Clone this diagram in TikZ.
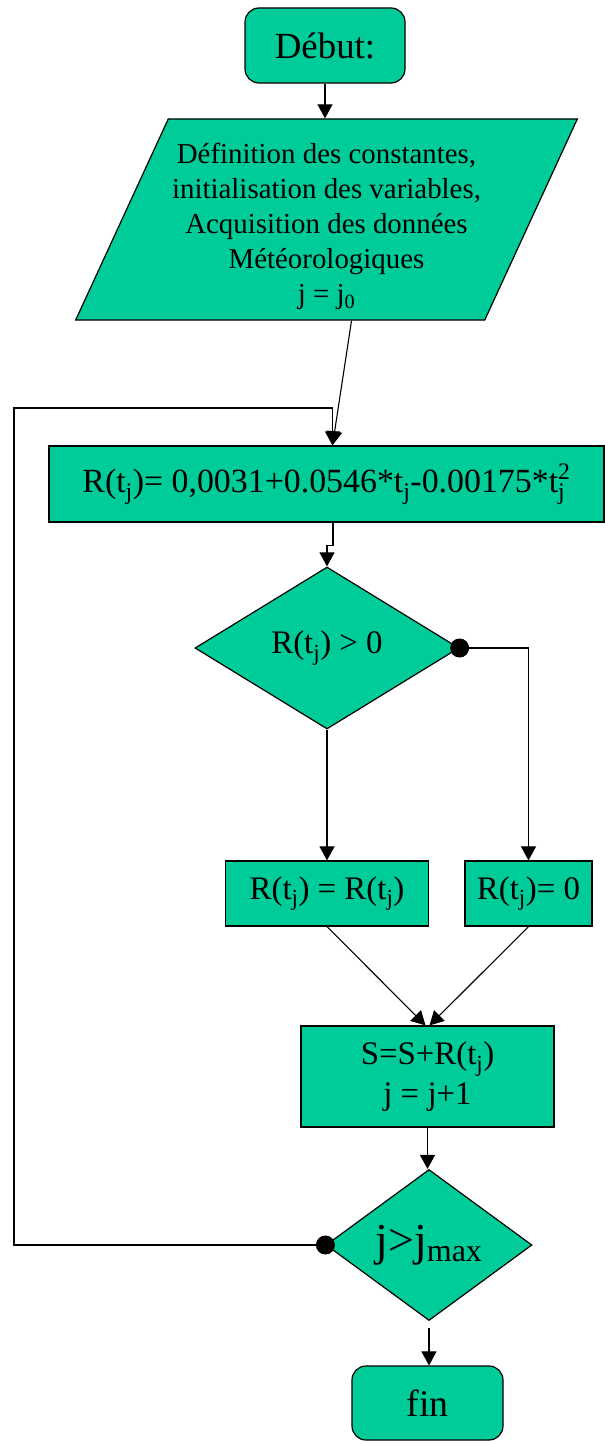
\documentclass[tikz,border=0pt]{standalone}
\usepackage{fontspec}
\setmainfont{Liberation Serif}
\usetikzlibrary{shapes.geometric,arrows.meta}
\definecolor{vert}{RGB}{0,204,153}
\tikzset{
  bloc/.style={draw,fill=vert,line width=1.2bp,inner sep=0pt},
  arrondi/.style={bloc,rounded corners=14bp},
  losange/.style={bloc,diamond},
  fleche/.style={line width=1.1bp,-{Triangle[length=14bp,width=15bp]}}
}
\newcommand{\tsj}{t\textsubscript{j}}
\begin{document}
\begin{tikzpicture}[x=1bp,y=-1bp,font=\fontsize{33}{40}\selectfont]
            \useasboundingbox (0,0) rectangle (605,1445);
            \node[arrondi,minimum width=160bp,minimum height=75bp,font=\fontsize{37}{44}\selectfont] (debut) at (325,45.5) {Début:};
            \node[bloc,trapezium,trapezium left angle=63.3,trapezium right angle=116.7,trapezium stretches=true,
                  minimum width=503bp,minimum height=201bp,align=center,font=\fontsize{29}{35}\selectfont] (donnees) at (326.5,219.5)
                  {\rule{0pt}{34bp}Définition des constantes,\\ initialisation des variables,\\ Acquisition des données\\ Météorologiques\\ j = j\textsubscript{0}};
            \node[bloc,minimum width=555bp,minimum height=76bp,font=\fontsize{34}{40}\selectfont] (calcul) at (326.5,484)
                  {R(\tsj)= 0,0031+0.0546*\tsj-0.00175*t\rlap{\textsubscript{j}}\raisebox{4bp}{\textsuperscript{2}}};
            \node[losange,aspect=1.63,minimum width=264bp,minimum height=162bp] (test1) at (327,648) {R(\tsj) > 0};
            \node[bloc,minimum width=203bp,minimum height=65bp] (oui) at (327,893.5) {R(\tsj) = R(\tsj)};
            \node[bloc,minimum width=127bp,minimum height=65bp] (non) at (528.5,893.5) {R(\tsj)= 0};
            \node[bloc,minimum width=253bp,minimum height=101bp,align=center] (somme) at (427.5,1076.5) {S=S+R(\tsj)\\ j = j+1};
            \node[losange,aspect=1.36,minimum width=206bp,minimum height=151bp,font=\fontsize{46}{50}\selectfont] (test2) at (429,1245) {j>j\textsubscript{max}};
            \node[arrondi,minimum width=151bp,minimum height=74bp,font=\fontsize{38}{44}\selectfont] (fin) at (427.5,1403) {fin};
            \coordinate (coin) at (14,408);
            % liaisons
            \draw[fleche] (debut.south) -- (debut.south |- donnees.north);
            \draw[fleche] ([xshift=25bp]donnees.south) -- ([xshift=6bp]calcul.north);
            \draw[fleche] (test2.west) -| (coin) -| ([xshift=6bp]calcul.north);
            \draw[fleche] ([xshift=6.5bp]calcul.south) -- ++(0,23) -| (test1.north);
            \draw[fleche] (test1.south) -- (oui.north);
            \draw[fleche] (test1.east) -| (non.north);
            \draw[fleche] (oui.south) -- ([xshift=-2bp]somme.north);
            \draw[fleche] (non.south) -- ([xshift=2bp]somme.north);
            \draw[fleche] (somme.south) -- (somme.south |- test2.north);
            \draw[fleche,shorten <=7bp] (test2.south) -- (test2.south |- fin.north);
            \fill (test1.east) circle (9.5bp);
            \fill (test2.west) circle (9.5bp);
\end{tikzpicture}
\end{document}
